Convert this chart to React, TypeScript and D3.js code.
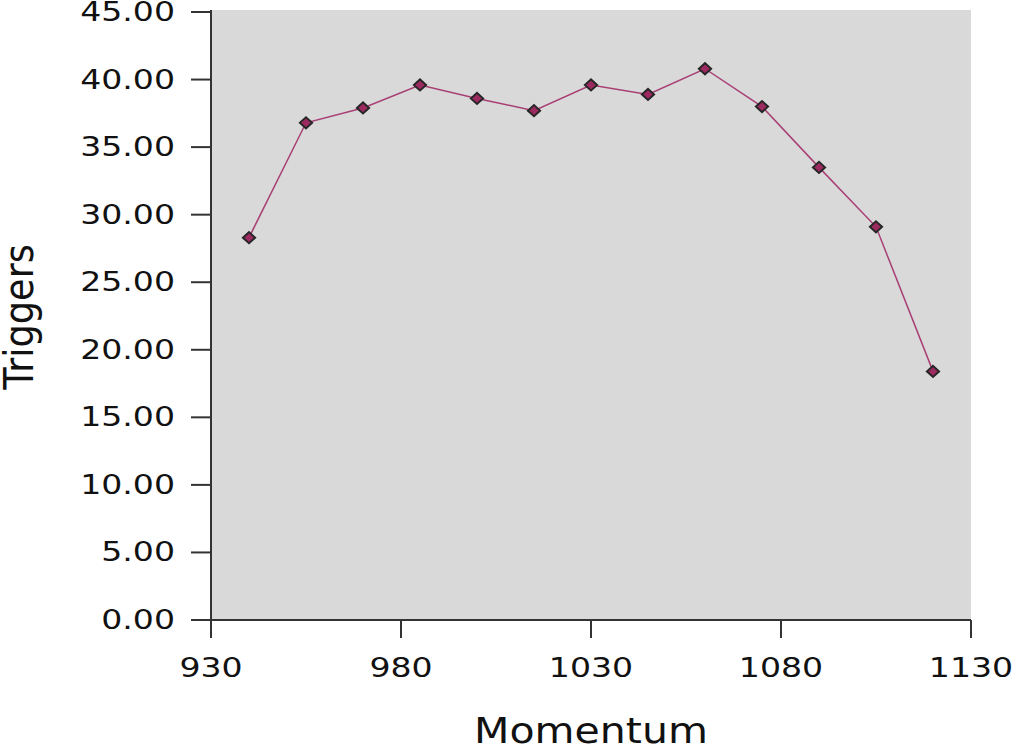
import React from "react";
import * as d3 from "d3";

const momentum = [940, 955, 970, 985, 1000, 1015, 1030, 1045, 1060, 1075, 1090, 1105, 1120];
const triggers = [28.3, 36.8, 37.9, 39.6, 38.6, 37.7, 39.6, 38.9, 40.8, 38.0, 33.5, 29.1, 18.4];
const xTicks = [930, 980, 1030, 1080, 1130];
const yTicks = [0, 5, 10, 15, 20, 25, 30, 35, 40, 45];

const W = 1016, H = 751;
const left = 211, right = 971, top = 10, bottom = 620;
const SX = 1.25;

export default function App() {
  const x = d3.scaleLinear().domain([930, 1130]).range([left, right]);
  const y = d3.scaleLinear().domain([0, 45]).range([bottom, 12]);
  const data = momentum.map((m, i) => [m, triggers[i]] as [number, number]);
  const line = d3.line<[number, number]>().x(d => x(d[0])).y(d => y(d[1]));
  const diamond = d3.symbol().type(d3.symbolDiamond).size(36)() as string;
  const font = "DejaVu Sans, sans-serif";
  return (
    <svg width={W} height={H} style={{ position: "absolute", left: 0, top: 0, background: "#fff" }}>
      <rect x={left} y={top} width={right - left} height={bottom - top} fill="#d9d9d9" />
      <path d={line(data) as string} fill="none" stroke="#a83f74" strokeWidth={1.5} />
      {data.map((d, i) => (
        <path key={i} d={diamond} transform={`translate(${x(d[0])},${y(d[1])}) scale(1.9,1)`} fill="#9c2a60" stroke="#262626" strokeWidth={1.3} />
      ))}
      <line x1={left} x2={left} y1={top} y2={bottom} stroke="#333" strokeWidth={2} />
      <line x1={left} x2={right} y1={bottom} y2={bottom} stroke="#333" strokeWidth={2} />
      {yTicks.map(t => (
        <g key={t}>
          <line x1={left - 20} x2={left} y1={y(t)} y2={y(t)} stroke="#333" strokeWidth={2} />
          <text transform={`translate(${left - 36},${y(t) + 9}) scale(${SX},1)`} textAnchor="end" fontFamily={font} fontSize={26.5} fill="#111">{t.toFixed(2)}</text>
        </g>
      ))}
      {xTicks.map(t => (
        <g key={t}>
          <line x1={x(t)} x2={x(t)} y1={bottom} y2={bottom + 18} stroke="#333" strokeWidth={2} />
          <text transform={`translate(${x(t)},${677}) scale(${SX},1)`} textAnchor="middle" fontFamily={font} fontSize={26.5} fill="#111">{t}</text>
        </g>
      ))}
      <text transform={`translate(${x(1030)},${743}) scale(1.14,1)`} textAnchor="middle" fontFamily={font} fontSize={36} fill="#111">Momentum</text>
      <text transform={`translate(${33},${317}) rotate(-90) scale(1,1.12)`} textAnchor="middle" fontFamily={font} fontSize={36.7} fill="#111">Triggers</text>
    </svg>
  );
}
